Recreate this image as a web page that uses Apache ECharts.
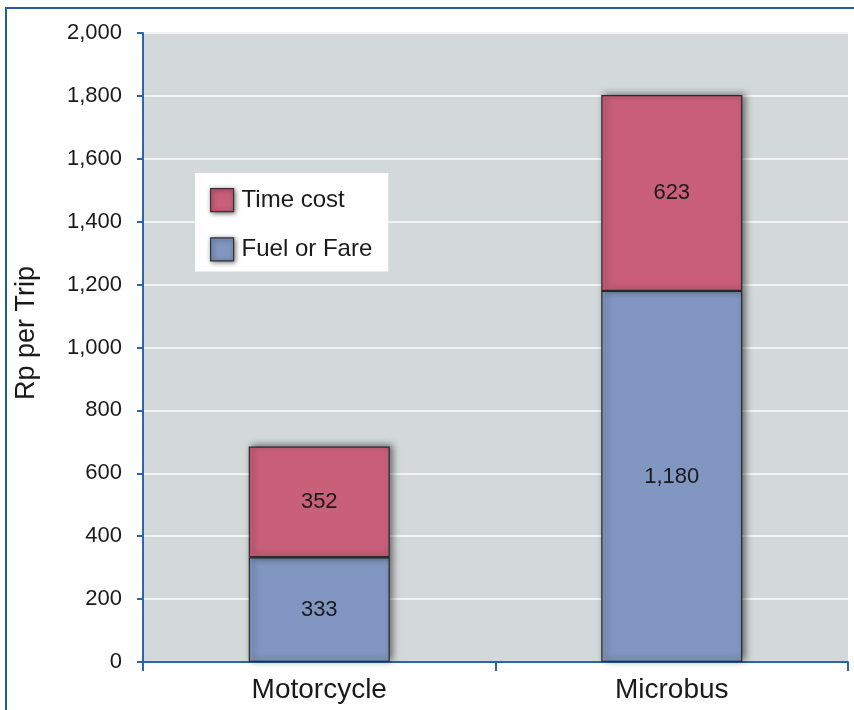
<!DOCTYPE html>
<html><head><meta charset="utf-8">
<script src="https://cdn.jsdelivr.net/npm/echarts@6/dist/echarts.min.js"></script>
<style>html,body{margin:0;padding:0;background:#fff}#c{width:854px;height:710px}</style>
</head><body><div id="c"></div>
<script>
const categories = ['Motorcycle', 'Microbus'];
const fuelOrFare = [333, 1180];
const timeCost = [352, 623];
const yTicks = [0, 200, 400, 600, 800, 1000, 1200, 1400, 1600, 1800, 2000];
const yTitle = 'Rp per Trip';

const fmt = v => Number(v).toLocaleString('en-US');
const chart = echarts.init(document.getElementById('c'), null, {renderer: 'canvas'});
const font = 'Helvetica, Arial, "Liberation Sans", sans-serif';
const barShadow = {shadowColor: 'rgba(0,0,0,0.55)', shadowBlur: 7, shadowOffsetX: 3, shadowOffsetY: -1};
chart.setOption({
  animation: false,
  textStyle: {fontFamily: font},
  graphic: [{
    type: 'polyline', shape: {points: [[6, 712], [6, 8], [856, 8]]},
    style: {stroke: '#1f5c9f', lineWidth: 2, fill: null}
  }, {
    type: 'text', x: 27, y: 333, rotation: Math.PI / 2,
    style: {text: yTitle, font: '27px ' + font, fill: '#1a1a1a', align: 'center', verticalAlign: 'middle'}
  }],
  grid: {left: 143, right: 6, top: 33, bottom: 48, show: true, backgroundColor: '#d3d8da', borderWidth: 0},
  legend: {
    data: ['Time cost', 'Fuel or Fare'],
    orient: 'vertical', left: 195, top: 173,
    backgroundColor: '#ffffff', padding: [15, 16, 10, 15],
    itemWidth: 23, itemHeight: 23, itemGap: 25,
    icon: 'rect',
    textStyle: {fontSize: 24, color: '#1a1a1a', fontFamily: font, padding: [0, 0, 0, 3]},
    itemStyle: {borderColor: '#333', borderWidth: 1.2, shadowColor: 'rgba(0,0,0,0.6)', shadowBlur: 5, shadowOffsetX: 1, shadowOffsetY: 1}
  },
  xAxis: {
    type: 'category', data: categories,
    axisLine: {lineStyle: {color: '#2c66a8', width: 2}},
    axisTick: {show: true, length: 9, lineStyle: {color: '#2c66a8', width: 2}},
    axisLabel: {fontSize: 28, color: '#1a1a1a', margin: 14, fontFamily: font}
  },
  yAxis: {
    type: 'value', min: 0, max: 2000, interval: 200,
    axisLine: {show: true, lineStyle: {color: '#2c66a8', width: 2}},
    axisTick: {show: true, length: 6, lineStyle: {color: '#2c66a8', width: 2}},
    axisLabel: {fontSize: 22, color: '#1a1a1a', margin: 21, fontFamily: font,
      formatter: v => yTicks.includes(v) ? fmt(v) : ''},
    splitLine: {show: true, lineStyle: {color: '#f2f4f4', width: 2}}
  },
  series: [{
    name: 'Fuel or Fare', type: 'bar', stack: 'total', data: fuelOrFare, barWidth: '40%',
    itemStyle: Object.assign({color: '#8196c1', borderColor: '#2a2a2a', borderWidth: 1.2}, barShadow),
    label: {show: true, position: 'inside', fontSize: 22, color: '#1a1a1a', fontFamily: font, formatter: p => fmt(p.value)}
  }, {
    name: 'Time cost', type: 'bar', stack: 'total', data: timeCost, barWidth: '40%',
    itemStyle: Object.assign({color: '#ca5f7a', borderColor: '#2a2a2a', borderWidth: 1.2}, barShadow),
    label: {show: true, position: 'inside', fontSize: 22, color: '#1a1a1a', fontFamily: font, formatter: p => fmt(p.value)}
  }]
});
</script></body></html>
